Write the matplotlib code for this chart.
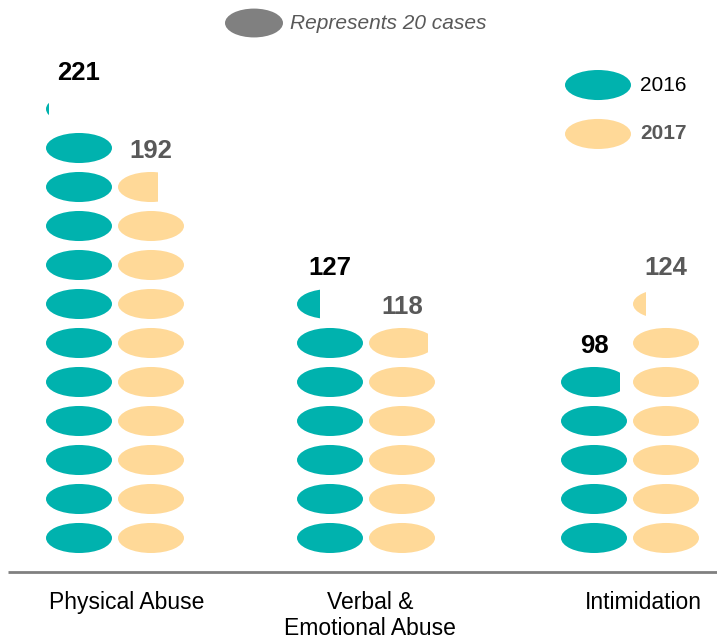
import math
import matplotlib
matplotlib.use("Agg")
import matplotlib.pyplot as plt
from matplotlib.patches import Ellipse, Rectangle

plt.rcParams['font.family'] = ['Liberation Sans', 'DejaVu Sans']

# données
categories = ["Physical Abuse", "Verbal &\nEmotional Abuse", "Intimidation"]
values_2016 = [221, 127, 98]
values_2017 = [192, 118, 124]
cases_per_icon = 20

teal = "#00B2AE"
peach = "#FFD998"
grey_txt = "#595959"

# mise en page (pixels en x, une rangée = une unité en y)
group_x = [115, 366, 630]
col_offset = 36
icon_w = 66
icon_h = 0.77

fig = plt.figure(figsize=(7.17, 6.42), dpi=100)
ax = fig.add_axes([0, 0, 1, 1])
ax.set_xlim(0, 717)
ax.set_ylim(-2.167, 14.295)
ax.axis("off")


def draw_column(xc, value, color, label_color):
    n_full = value // cases_per_icon
    frac = (value - n_full * cases_per_icon) / cases_per_icon
    for i in range(n_full):
        ax.add_patch(Ellipse((xc, i + 0.5), icon_w, icon_h, color=color, lw=0))
    top = n_full - 1
    if frac > 0:
        e = Ellipse((xc, n_full + 0.5), icon_w, icon_h, color=color, lw=0)
        ax.add_patch(e)
        clip = Rectangle((xc - icon_w / 2, n_full), icon_w * frac, 1,
                         transform=ax.transData, visible=False)
        ax.add_patch(clip)
        e.set_clip_path(clip)
        top = n_full
    ax.text(xc, top + 1.42, str(value), ha="center", va="center",
            fontsize=18.5, fontweight="bold", color=label_color)


for gx, v16, v17 in zip(group_x, values_2016, values_2017):
    draw_column(gx - col_offset, v16, teal, "black")
    draw_column(gx + col_offset, v17, peach, grey_txt)

# axe horizontal
ax.plot([8, 717], [-0.372, -0.372], color="#808080", lw=2, solid_capstyle="butt")

cat_x = [127, 370, 643]
for cx, cat in zip(cat_x, categories):
    ax.text(cx, -0.86, cat, ha="center", va="top", fontsize=16.5,
            color="black", linespacing=1.15)

# légende du haut
ax.add_patch(Ellipse((254, 13.705), 58, 0.74, color="#808080", lw=0))
ax.text(290, 13.705, "Represents 20 cases", ha="left", va="center",
        fontsize=15, style="italic", color=grey_txt)

# légende à droite
ax.add_patch(Ellipse((598, 12.115), icon_w, icon_h, color=teal, lw=0))
ax.text(640, 12.115, "2016", ha="left", va="center", fontsize=15, color="black")
ax.add_patch(Ellipse((598, 10.86), icon_w, icon_h, color=peach, lw=0))
ax.text(640, 10.86, "2017", ha="left", va="center", fontsize=15,
        fontweight="bold", color=grey_txt)

fig.savefig("out.png", dpi=100)
